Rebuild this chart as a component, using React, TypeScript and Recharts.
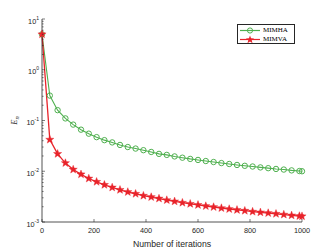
import { LineChart, Line, XAxis, YAxis } from "recharts";

const iterations = [
  0, 30, 60, 90, 120, 150, 180, 210, 240, 270, 300, 330, 360, 390, 420, 450, 480, 510,
  540, 570, 600, 630, 660, 690, 720, 750, 780, 810, 840, 870, 900, 930, 960, 990, 1000,
];
const mimha = [
  5, 0.31, 0.16, 0.11, 0.083, 0.066, 0.055, 0.047, 0.041, 0.037, 0.033, 0.03, 0.028, 0.026,
  0.024, 0.022, 0.021, 0.0196, 0.0185, 0.0175, 0.0167, 0.0159, 0.0152, 0.0145, 0.0139, 0.0133,
  0.0128, 0.0124, 0.0119, 0.0115, 0.0111, 0.0108, 0.0104, 0.0101, 0.01,
];
const mimva = [
  5, 0.042, 0.022, 0.0145, 0.0108, 0.0087, 0.0072, 0.0062, 0.0054, 0.0048, 0.0043, 0.0039,
  0.0036, 0.0033, 0.0031, 0.0029, 0.0027, 0.00255, 0.0024, 0.00228, 0.00217, 0.00206, 0.00197,
  0.00188, 0.0018, 0.00173, 0.00167, 0.0016, 0.00155, 0.0015, 0.00145, 0.0014, 0.00135,
  0.00131, 0.0013,
];
const xTicks = [0, 200, 400, 600, 800, 1000];
const decades = [0.001, 0.01, 0.1, 1, 10];
const exponents = ["-3", "-2", "-1", "0", "1"];

const GREEN = "#4fb04f";
const RED = "#e8232a";
const AXIS = "#262626";

const data = iterations.map((it, i) => ({ it, mimha: mimha[i], mimva: mimva[i] }));

// decade ticks plus the 2..9 minor ticks of a log axis
const yTicks: number[] = [];
decades.forEach((d, i) => {
  yTicks.push(d);
  if (i < decades.length - 1) for (let k = 2; k <= 9; k++) yTicks.push(+(d * k).toPrecision(3));
});

const isDecade = (v: number) => decades.findIndex((d) => Math.abs(d - v) / d < 1e-6);

function LeftTick(props: any) {
  const { x, y, payload } = props;
  const i = isDecade(payload.value);
  return (
    <g>
      <line x1={x} x2={x + (i >= 0 ? 3 : 1.6)} y1={y} y2={y} stroke={AXIS} strokeWidth={0.6} />
      {i >= 0 && (
        <text x={x - 3} y={y + 4.5} textAnchor="end" fontSize={7.3} fill={AXIS} fontFamily="Liberation Sans, Arial, sans-serif">
          10<tspan dy={-4} fontSize={5}>{exponents[i]}</tspan>
        </text>
      )}
    </g>
  );
}

function RightTick(props: any) {
  const { x, y, payload } = props;
  const i = isDecade(payload.value);
  return <line x1={x} x2={x - (i >= 0 ? 3 : 1.6)} y1={y} y2={y} stroke={AXIS} strokeWidth={0.6} />;
}

function BottomTick(props: any) {
  const { x, y, payload } = props;
  return (
    <g>
      <line x1={x} x2={x} y1={y} y2={y - 3} stroke={AXIS} strokeWidth={0.6} />
      <text x={x} y={y + 11} textAnchor="middle" fontSize={7.3} fill={AXIS} fontFamily="Liberation Sans, Arial, sans-serif">
        {payload.value}
      </text>
    </g>
  );
}

function TopTick(props: any) {
  const { x, y } = props;
  return <line x1={x} x2={x} y1={y} y2={y + 3} stroke={AXIS} strokeWidth={0.6} />;
}

function starPath(cx: number, cy: number, R: number, r: number) {
  let d = "";
  for (let k = 0; k < 10; k++) {
    const a = -Math.PI / 2 + (k * Math.PI) / 5;
    const rr = k % 2 === 0 ? R : r;
    d += (k === 0 ? "M" : "L") + (cx + rr * Math.cos(a)).toFixed(2) + "," + (cy + rr * Math.sin(a)).toFixed(2);
  }
  return d + "Z";
}

function StarDot(props: any) {
  const { cx, cy, index } = props;
  return <path key={"s" + index} d={starPath(cx, cy, 4.3, 1.8)} fill={RED} stroke={RED} strokeWidth={0.4} />;
}

function LegendBox() {
  const row = (label: string, color: string, marker: "circle" | "star") => (
    <div style={{ display: "flex", alignItems: "center", height: 9.5 }}>
      <svg width={24} height={9}>
        <line x1={2} x2={22} y1={4.5} y2={4.5} stroke={color} strokeWidth={1.2} />
        {marker === "circle" ? (
          <circle cx={12} cy={4.5} r={2.6} fill="none" stroke={color} strokeWidth={1} />
        ) : (
          <path d={starPath(12, 4.8, 4.3, 1.8)} fill={color} />
        )}
      </svg>
      <span style={{ fontFamily: "Liberation Serif, Times New Roman, serif", fontSize: 7, color: "#000", marginLeft: 1, lineHeight: "9px" }}>
        {label}
      </span>
    </div>
  );
  return (
    <div
      style={{
        position: "absolute",
        left: 237,
        top: 24,
        border: `0.8px solid ${AXIS}`,
        background: "#fff",
        width: 58,
        height: 20,
        padding: "0.5px 0",
        boxSizing: "border-box",
      }}
    >
      {row("MIMHA", GREEN, "circle")}
      {row("MIMVA", RED, "star")}
    </div>
  );
}

export default function App() {
  return (
    <div style={{ position: "absolute", left: 0, top: 0, width: 332, height: 250, background: "#fff" }}>
      <LineChart width={332} height={250} data={data} margin={{ top: 19, right: 30, left: 0, bottom: 0 }}>
        <XAxis
          dataKey="it"
          type="number"
          domain={[0, 1000]}
          ticks={xTicks}
          height={28}
          tickSize={0}
          tickMargin={0}
          tickLine={false}
          tick={<BottomTick />}
          axisLine={{ stroke: AXIS, strokeWidth: 0.8 }}
          label={{ value: "Number of iterations", position: "insideBottom", offset: 3, fontSize: 8.7, fill: AXIS, fontFamily: "Liberation Sans, Arial, sans-serif" }}
        />
        <XAxis
          xAxisId="top"
          orientation="top"
          dataKey="it"
          type="number"
          domain={[0, 1000]}
          ticks={xTicks}
          height={0}
          tickSize={0}
          tickMargin={0}
          tickLine={false}
          tick={<TopTick />}
          axisLine={{ stroke: AXIS, strokeWidth: 0.8 }}
        />
        <YAxis
          scale="log"
          type="number"
          domain={[0.001, 10]}
          allowDataOverflow
          ticks={yTicks}
          interval={0}
          width={42}
          tickSize={0}
          tickMargin={0}
          tickLine={false}
          tick={<LeftTick />}
          axisLine={{ stroke: AXIS, strokeWidth: 0.8 }}
          label={({ viewBox }: any) => (
            <text
              x={17}
              y={viewBox.y + viewBox.height / 2}
              transform={`rotate(-90, 17, ${viewBox.y + viewBox.height / 2})`}
              textAnchor="middle"
              fontSize={8.5}
              fill={AXIS}
              fontFamily="Liberation Serif, Times New Roman, serif"
            >
              <tspan fontStyle="italic">E</tspan>
              <tspan dy={2} fontSize={6.5} fontStyle="italic">n</tspan>
            </text>
          )}
        />
        <YAxis
          yAxisId="right"
          orientation="right"
          scale="log"
          type="number"
          domain={[0.001, 10]}
          allowDataOverflow
          ticks={yTicks}
          interval={0}
          width={0}
          tickSize={0}
          tickMargin={0}
          tickLine={false}
          tick={<RightTick />}
          axisLine={{ stroke: AXIS, strokeWidth: 0.8 }}
        />
        <Line
          dataKey="mimha"
          stroke={GREEN}
          strokeWidth={1.1}
          dot={{ r: 2.7, fill: "none", stroke: GREEN, strokeWidth: 1 }}
          isAnimationActive={false}
        />
        <Line
          dataKey="mimva"
          stroke={RED}
          strokeWidth={1.3}
          dot={<StarDot />}
          isAnimationActive={false}
        />
      </LineChart>
      <LegendBox />
    </div>
  );
}
